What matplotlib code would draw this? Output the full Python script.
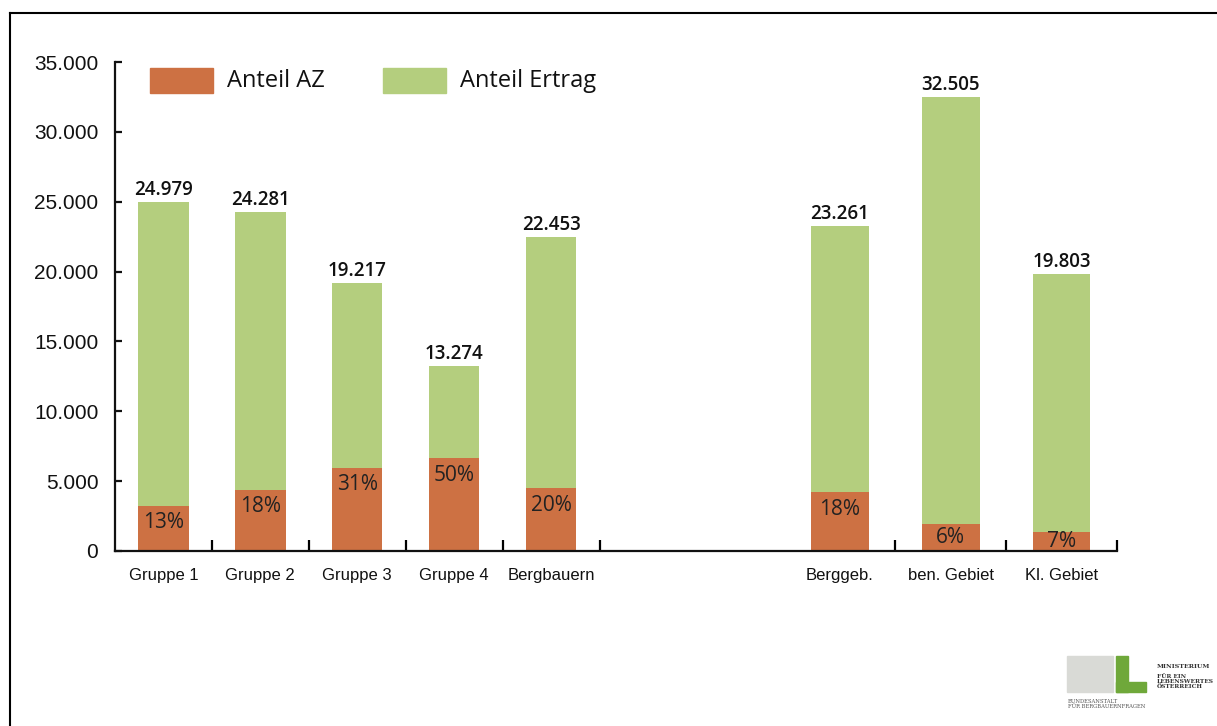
import matplotlib
matplotlib.use("Agg")
import matplotlib.pyplot as plt
from matplotlib.patches import Rectangle
from matplotlib.ticker import FuncFormatter

# data
categories = ["Gruppe 1", "Gruppe 2", "Gruppe 3", "Gruppe 4", "Bergbauern",
              "Berggeb.", "ben. Gebiet", "Kl. Gebiet"]
totals = [24979, 24281, 19217, 13274, 22453, 23261, 32505, 19803]
anteil_az = [3250, 4370, 5960, 6640, 4490, 4190, 1950, 1390]
anteil_pct = [13, 18, 31, 50, 20, 18, 6, 7]
y_ticks = [0, 5000, 10000, 15000, 20000, 25000, 30000, 35000]

ORANGE = "#CD7143"
GREEN = "#B4CE7E"

# layout: five narrow slots, an empty gap, three wider slots
n_first = 5
gap = 1.907
wide = 1.144
slots = []
e = 0.0
for i in range(len(categories)):
    if i == n_first:
        e += gap
    w = 1.0 if i < n_first else wide
    slots.append((e, w))
    e += w
centers = [a + w / 2 for a, w in slots]
widths = [w * 0.52 for a, w in slots]
x_end = e
boundaries = [a + w for a, w in slots]

fig = plt.figure(figsize=(12.17, 7.26), dpi=100)
ax = fig.add_axes([115 / 1217, (726 - 551) / 726, (1117 - 115) / 1217, 489 / 726])

ertrag = [t - a for t, a in zip(totals, anteil_az)]
ax.bar(centers, anteil_az, width=widths, color=ORANGE, zorder=2)
ax.bar(centers, ertrag, width=widths, bottom=anteil_az, color=GREEN, zorder=2)

ax.set_xlim(0, x_end)
ax.set_ylim(0, 35000)

px = 35000 / 489  # data units per pixel
for c, t, a, p in zip(centers, totals, anteil_az, anteil_pct):
    ax.text(c, t + 2 * px, f"{t:,}".replace(",", "."), ha="center", va="bottom",
            fontsize=13.5, family="Open Sans", fontweight="semibold", color="#111111")
    ypos = max(a - 17 * px, a / 2)
    ax.text(c, ypos, f"{p}%", ha="center", va="center",
            fontsize=15, family="Open Sans", color="#222222", zorder=3)

for s in ["top", "right"]:
    ax.spines[s].set_visible(False)
for s in ["left", "bottom"]:
    ax.spines[s].set_linewidth(1.6)
    ax.spines[s].set_color("#111111")

ax.set_yticks(y_ticks)
ax.yaxis.set_major_formatter(FuncFormatter(lambda v, _: f"{int(v):,}".replace(",", ".")))
ax.tick_params(axis="y", direction="in", length=5, width=1.6, pad=12,
               labelsize=15, colors="#111111")
for lab in ax.get_yticklabels():
    lab.set_family("Liberation Sans")

ax.set_xticks(boundaries)
ax.set_xticklabels([])
ax.tick_params(axis="x", which="major", direction="in", length=8, width=1.6)
ax.set_xticks(centers, minor=True)
ax.set_xticklabels(categories, minor=True, family="Liberation Sans", fontsize=12)
ax.tick_params(axis="x", which="minor", length=0, pad=12, colors="#111111")

# legend
for x0, col, label in [(150, ORANGE, "Anteil AZ"), (383, GREEN, "Anteil Ertrag")]:
    fig.patches.append(Rectangle((x0 / 1217, (726 - 93) / 726), 63 / 1217, 25 / 726,
                                 transform=fig.transFigure, color=col))
    fig.text((x0 + 77) / 1217, (726 - 81) / 726, label, ha="left", va="center",
             fontsize=17, family="Open Sans", color="#111111")

# frame lines along top and left of the page
fig.add_artist(plt.Line2D([10 / 1217, 1], [1 - 13 / 726] * 2, color="black", lw=1.5,
                          transform=fig.transFigure))
fig.add_artist(plt.Line2D([10 / 1217] * 2, [0, 1 - 13 / 726], color="black", lw=1.5,
                          transform=fig.transFigure))

# rough logo, bottom right
fig.patches.append(Rectangle((1067 / 1217, (726 - 692) / 726), 46 / 1217, 36 / 726,
                             transform=fig.transFigure, color="#D9DAD6"))
fig.patches.append(Rectangle((1116 / 1217, (726 - 692) / 726), 12 / 1217, 36 / 726,
                             transform=fig.transFigure, color="#6FA83A"))
fig.patches.append(Rectangle((1116 / 1217, (726 - 692) / 726), 30 / 1217, 10 / 726,
                             transform=fig.transFigure, color="#6FA83A"))
fig.text(1157 / 1217, (726 - 668) / 726, "MINISTERIUM", fontsize=4.5,
         family="DejaVu Serif", fontweight="bold", color="#333333")
fig.text(1157 / 1217, (726 - 688) / 726, "FÜR EIN\nLEBENSWERTES\nÖSTERREICH",
         fontsize=4.2, family="DejaVu Serif", fontweight="bold", color="#333333",
         linespacing=1.0)
fig.text(1068 / 1217, (726 - 708) / 726, "BUNDESANSTALT\nFÜR BERGBAUERNFRAGEN",
         fontsize=3.8, family="DejaVu Serif", color="#555555", linespacing=1.0)

fig.savefig("out.png", dpi=100)
